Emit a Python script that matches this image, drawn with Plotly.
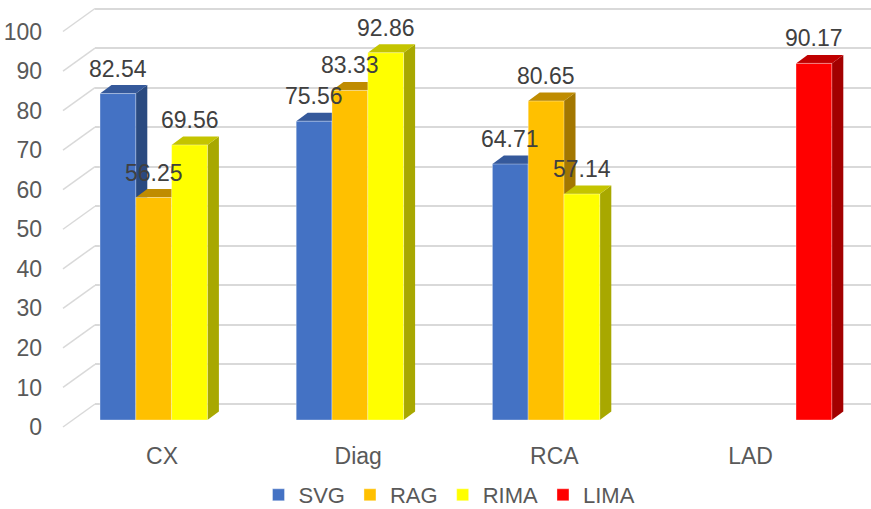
import plotly.graph_objects as go

# ---------------- data ----------------
categories = ["CX", "Diag", "RCA", "LAD"]
series_names = ["SVG", "RAG", "RIMA", "LIMA"]
svg_vals = [82.54, 75.56, 64.71, None]
rag_vals = [56.25, 83.33, 80.65, None]
rima_vals = [69.56, 92.86, 57.14, None]
lima_vals = [None, None, None, 90.17]
y_ticks = [0, 10, 20, 30, 40, 50, 60, 70, 80, 90, 100]

# ---------------- styles / geometry ----------------
W, H = 871, 509
front_colors = ["#4472C4", "#FFC000", "#FFFF00", "#FF0000"]
top_colors = ["#35599B", "#BF8C00", "#C4C400", "#C00000"]
side_colors = ["#2A4A80", "#A37700", "#A8A800", "#A30000"]

PLOT_LEFT, PLOT_RIGHT = 95.0, 871.0
PLOT_TOP, PLOT_BOTTOM = 0.0, 440.0
S = 3.955          # px per value unit
SLOT = 196.2       # px per category
BAR_W = 35.8       # px per bar
BACK_ZERO, BAR_ZERO, LABEL_ZERO = 404.0, 420.0, 427.0
BAR_C0, LABEL_C0 = 171.6, 162.0
DX_PX, DY_PX = 11.5, 8.5
WALL_DX = 32.0
FONT = "Liberation Sans, Arial, sans-serif"

def yrange(zero_px):
    r0 = -(PLOT_BOTTOM - zero_px) / S
    return [r0, r0 + (PLOT_BOTTOM - PLOT_TOP) / S]

def xrange(c0_px):
    r0 = -(c0_px - PLOT_LEFT) / SLOT
    return [r0, r0 + (PLOT_RIGHT - PLOT_LEFT) / SLOT]

all_vals = [svg_vals, rag_vals, rima_vals, lima_vals]
xpos = list(range(len(categories)))
n = len(series_names)
bargap = 1 - n * BAR_W / SLOT
w = (1 - bargap) / n
dxu = DX_PX / SLOT
dyu = DY_PX / S

fig = go.Figure()

# bars (front faces) on the main axes
for k, (name, vals) in enumerate(zip(series_names, all_vals)):
    fig.add_trace(go.Bar(
        x=xpos, y=vals, name=name, xaxis="x", yaxis="y",
        marker=dict(color=front_colors[k], line=dict(color="rgba(255,255,255,0.35)", width=1)),
        hoverinfo="skip",
    ))

# invisible anchors for the back-wall grid axis and the label axes
fig.add_trace(go.Scatter(x=[0], y=[0], xaxis="x2", yaxis="y2", mode="markers",
                         marker=dict(opacity=0), showlegend=False, hoverinfo="skip"))
fig.add_trace(go.Scatter(x=[0], y=[0], xaxis="x2", yaxis="y3", mode="markers",
                         marker=dict(opacity=0), showlegend=False, hoverinfo="skip"))

shapes = []
annotations = []
for i in xpos:
    for k, vals in enumerate(all_vals):
        v = vals[i]
        if v is None:
            continue
        xl = i - (1 - bargap) / 2 + k * w
        xr = xl + w
        shapes.append(dict(
            type="path", xref="x", yref="y", layer="between",
            path=f"M{xr},0 L{xr},{v} L{xr+dxu},{v+dyu} L{xr+dxu},{dyu} Z",
            fillcolor=side_colors[k], line=dict(width=0)))
        shapes.append(dict(
            type="path", xref="x", yref="y", layer="between",
            path=f"M{xl},{v} L{xr},{v} L{xr+dxu},{v+dyu} L{xl+dxu},{v+dyu} Z",
            fillcolor=top_colors[k], line=dict(width=0)))
        annotations.append(dict(
            x=(xl + xr) / 2, y=v, xref="x", yref="y", text=f"{v:.2f}",
            showarrow=False, yshift=25, yanchor="middle",
            font=dict(family=FONT, size=23, color="#404040")))

# side-wall diagonal grid lines (expressed on the bar value axis)
back_off = (BAR_ZERO - BACK_ZERO) / S
front_off = (BAR_ZERO - LABEL_ZERO) / S
for t in y_ticks:
    shapes.append(dict(
        type="line", xref="paper", yref="y", layer="below",
        x0=(PLOT_LEFT - WALL_DX) / W, x1=PLOT_LEFT / W,
        y0=t + front_off, y1=t + back_off,
        line=dict(color="#D9D9D9", width=1.5)))

ydom = [(H - PLOT_BOTTOM) / H, (H - PLOT_TOP) / H]
xdom = [PLOT_LEFT / W, PLOT_RIGHT / W]
font_axis = dict(family=FONT, size=23, color="#595959")

fig.update_layout(
    width=W, height=H, autosize=False,
    margin=dict(l=0, r=0, t=0, b=0, autoexpand=False),
    paper_bgcolor="white", plot_bgcolor="rgba(0,0,0,0)",
    barmode="group", bargap=bargap, bargroupgap=0,
    shapes=shapes, annotations=annotations,
    xaxis=dict(domain=xdom, range=xrange(BAR_C0), showticklabels=False, showgrid=False,
               zeroline=False, showline=False, ticks="", fixedrange=True, automargin=False),
    yaxis=dict(domain=ydom, range=yrange(BAR_ZERO), showticklabels=False, showgrid=False,
               zeroline=False, showline=False, ticks="", fixedrange=True, automargin=False),
    xaxis2=dict(overlaying="x", side="bottom", anchor="y", range=xrange(LABEL_C0),
                tickvals=xpos, ticktext=categories, showgrid=False, zeroline=False,
                showline=False, ticks="", tickfont=font_axis,
                fixedrange=True, automargin=False),
    yaxis2=dict(overlaying="y", range=yrange(BACK_ZERO), tickvals=y_ticks,
                showticklabels=False, showgrid=True, gridcolor="#D9D9D9", gridwidth=1.5,
                zeroline=False, showline=False, ticks="", fixedrange=True, automargin=False),
    yaxis3=dict(overlaying="y", anchor="free", position=42 / W, side="left",
                range=yrange(LABEL_ZERO), tickvals=y_ticks, showgrid=False, zeroline=False,
                showline=False, ticks="", tickfont=font_axis, fixedrange=True, automargin=False),
    legend=dict(orientation="h", x=449.5 / W, xanchor="center", y=-7 / H, yanchor="bottom",
                font=dict(family=FONT, size=22, color="#595959"), bgcolor="rgba(0,0,0,0)",
                tracegroupgap=0),
    showlegend=True,
)

fig.write_html("out.html")
